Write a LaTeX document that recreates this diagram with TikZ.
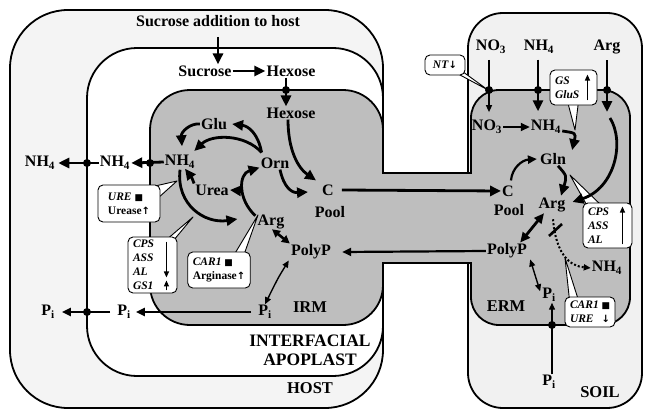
\documentclass[tikz,border=0pt]{standalone}
\usepackage{fontspec}
\setmainfont{Liberation Serif}
\newfontfamily\symf{DejaVu Sans}
\usetikzlibrary{arrows.meta}
\pgfdeclarelayer{regions}
\pgfdeclarelayer{ptr}
\pgfsetlayers{regions,ptr,main}
\definecolor{hostfill}{gray}{0.955}
\definecolor{soilfill}{gray}{0.945}
\definecolor{cellfill}{gray}{0.745}
\begin{document}
\begin{tikzpicture}[x=1pt,y=-1pt,
  region/.style={line width=1.8pt},
  lbl/.style={font=\bfseries\fontsize{16}{19}\selectfont, inner sep=1pt},
  zone/.style={font=\bfseries\fontsize{16.5}{19}\selectfont, inner sep=1pt, align=center},
  thk/.style={line width=2.8pt, -{Triangle[length=11pt,width=10pt]}},
  thkd/.style={line width=2.8pt, {Triangle[length=10pt,width=9pt]}-{Triangle[length=10pt,width=9pt]}},
  thks/.style={line width=2.6pt, {Triangle[length=8pt,width=8pt]}-{Triangle[length=8pt,width=8pt]}},
  med/.style={line width=2.2pt, -{Triangle[length=9pt,width=8pt]}},
  thn/.style={line width=1.4pt, -{Triangle[length=7pt,width=6pt]}},
  thnd/.style={line width=1.4pt, {Triangle[length=7pt,width=6pt]}-{Triangle[length=7pt,width=6pt]}},
  dotd/.style={line width=2pt, dotted, -{Triangle[length=7pt,width=6pt]}},
  cbox/.style={draw, fill=white, line width=0.9pt, rounded corners=5pt, font=\bfseries\fontsize{11.5}{14}\selectfont, align=left, inner xsep=5pt, inner ysep=2pt},
  ptrs/.style={draw, fill=white, line width=0.9pt, line join=round},
  barr/.style={line width=1.2pt, -{Triangle[length=6pt,width=5pt]}}
]
\useasboundingbox (0,0) rectangle (650,412);

% ---------- regions ----------
\begin{pgfonlayer}{regions}
\draw[region, fill=hostfill, rounded corners=58pt] (10,10) rectangle (383,408);
\draw[region, fill=white, rounded corners=50pt] (87,48) rectangle (383,376);
\draw[region, fill=cellfill, rounded corners=40pt] (150,90) rectangle (383,325);
\draw[region, fill=soilfill, rounded corners=35pt] (468,13) rectangle (642,408);
\draw[region, fill=cellfill, rounded corners=28pt] (471,90) rectangle (630,325);
\fill[cellfill] (380,174) rectangle (474,262);
\draw[region] (383,173) -- (471,173);
\draw[region] (383,263) -- (471,263);
\end{pgfonlayer}

% ---------- labels ----------
\node[lbl] (sucadd) at (218,21) {Sucrose addition to host};
\node[lbl] (suc) at (205,71) {Sucrose};
\node[lbl] (hexA) at (291,71) {Hexose};
\node[lbl] (hexB) at (291,113) {Hexose};
\node[lbl] (glu) at (214,124) {Glu};
\node[lbl] (nhI) at (180,162) {NH\textsubscript{4}};
\node[lbl] (orn) at (275,163) {Orn};
\node[lbl] (urea) at (212,190) {Urea};
\node[lbl] (cI) at (328,190) {C};
\node[lbl] (poolI) at (330,212) {Pool};
\node[lbl] (argI) at (271,222) {Arg};
\node[lbl] (ppI) at (311,252) {PolyP};
\node[lbl] (piI) at (265,312) {P\textsubscript{i}};
\node[zone] (irm) at (310,307) {IRM};
\node[zone, font=\bfseries\fontsize{17.5}{19}\selectfont] (iap) at (310,350) {INTERFACIAL\\APOPLAST};
\node[zone] (host) at (310,388) {HOST};
\node[lbl] (nhA) at (115,163) {NH\textsubscript{4}};
\node[lbl] (nhH) at (40,163) {NH\textsubscript{4}};
\node[lbl] (piA) at (124,312) {P\textsubscript{i}};
\node[lbl] (piH) at (48,312) {P\textsubscript{i}};

\node[lbl] (no3S) at (491,47) {NO\textsubscript{3}};
\node[lbl] (nhS) at (539,47) {NH\textsubscript{4}};
\node[lbl] (argS) at (607,47) {Arg};
\node[lbl] (no3E) at (487,127) {NO\textsubscript{3}};
\node[lbl] (nhE) at (546,127) {NH\textsubscript{4}};
\node[lbl] (gln) at (553,159) {Gln};
\node[lbl] (cE) at (508,191) {C};
\node[lbl] (poolE) at (509,210) {Pool};
\node[lbl] (argE) at (552,205) {Arg};
\node[lbl] (ppE) at (507,251) {PolyP};
\node[lbl] (nhE2) at (607,268) {NH\textsubscript{4}};
\node[lbl] (piE) at (549,295) {P\textsubscript{i}};
\node[zone] (erm) at (506,306) {ERM};
\node[lbl] (piS) at (549,382) {P\textsubscript{i}};
\node[zone] (soil) at (600,392) {SOIL};

% ---------- membrane crossing points ----------
\coordinate (dHex) at (286,90);
\coordinate (dNHi) at (150,163);
\coordinate (dNHa) at (87,163);
\coordinate (dPia) at (87,312);
\coordinate (dNO3) at (489,90);
\coordinate (dNHs) at (538,90);
\coordinate (dArgs) at (607,90);
\coordinate (dPis) at (552,325);
\coordinate (argBr) at (243,191);
\coordinate (argIn) at (607,112);
\coordinate (argCv) at (610,118);

% ---------- host / IRM arrows ----------
\draw[thk] ([yshift=-9pt]sucadd.south) -- (sucadd.south |- suc.north);
\draw[thk] (suc.east) -- (hexA.west);
\draw[thk] (hexA.south -| dHex) -- (hexB.north -| dHex);
\draw[thk] ([xshift=-3pt]hexB.south) .. controls (288,150) and (298,168) .. ([xshift=-5pt,yshift=3pt]cI.north west);
\draw[thk] (glu.west) .. controls (190,123) and (181,132) .. ([xshift=2pt,yshift=8pt]nhI.north);
\draw[thk] ([xshift=2pt,yshift=4pt]orn.north west) .. controls (258,133) and (248,126) .. ([xshift=4pt]glu.east);
\draw[thk] ([xshift=2pt,yshift=4pt]orn.north west) .. controls (245,134) and (212,134) .. ([xshift=-2pt,yshift=11pt]nhI.east);
\draw[thk] (urea.north west) .. controls (192,178) .. ([xshift=5pt,yshift=1pt]nhI.south);
\draw[thk] (nhI.south) .. controls (176,205) and (205,224) .. ([xshift=-19pt,yshift=3pt]argI.west);
\draw[thk] ([xshift=-1pt,yshift=-2pt]argI.north west) .. controls (238,200) and (238,174) .. ([yshift=2pt]orn.south west);
\draw[thk] (argBr) -- (urea.east);
\draw[thk] ([xshift=5pt]orn.south) .. controls (284,188) and (292,193) .. ([xshift=-13pt,yshift=-2pt]cI.west);
\draw[thks] ([xshift=1pt,yshift=1pt]argI.south) -- ([xshift=0pt,yshift=0pt]ppI.north west);
\draw[thnd] ([xshift=-1pt]ppI.south west) .. controls (278,278) .. (piI.north);
\draw[med] ([xshift=-6pt]piI.west) -- ([xshift=4pt]piA.east);
\draw[med] ([xshift=-6pt]piA.west) -- ([xshift=6pt]piH.east);
\draw[thk] (nhI.west) -- (nhA.east);
\draw[thk] (nhA.west) -- ([xshift=2pt]nhH.east);
\foreach \d in {dHex,dNHi,dNHa,dPia} \fill (\d) circle[radius=4pt];

% ---------- transfer between IRM and ERM ----------
\draw[thk] ([xshift=7pt]cI.east) -- (cE.west);
\draw[med] (ppE.west) -- ([xshift=10pt]ppI.east);

% ---------- ERM / soil arrows ----------
\draw[thn] ([yshift=-5pt]no3S.south -| dNO3) -- ([yshift=7pt]no3E.north -| dNO3);
\draw[thk] ([yshift=-5pt]nhS.south -| dNHs) -- ([yshift=8pt]nhE.north -| dNHs);
\draw[thk] ([yshift=-5pt]argS.south) -- (argIn);
\draw[thk] (argCv) .. controls (625,142) and (615,188) .. ([xshift=6pt,yshift=3pt]argE.east);
\draw[med] (no3E.east) -- (nhE.west);
\draw[thk] ([yshift=-4pt]nhE.east) .. controls (576,133) .. ([xshift=5pt,yshift=2pt]gln.north east);
\draw[med] ([xshift=-4pt,yshift=4pt]cE.north east) .. controls (512,168) and (522,160) .. ([xshift=-2pt]gln.west);
\draw[thk] ([xshift=5pt]gln.south) .. controls (567,176) .. ([xshift=9pt,yshift=1pt]argE.north);
\draw[thkd] ([xshift=-8pt]argE.south) -- ([xshift=-8pt]ppE.north east);
\draw[dotd] ([xshift=1pt,yshift=-6pt]argE.south) .. controls (556,255) and (570,266) .. (nhE2.west);
\draw[line width=2.6pt] (549,236) -- (562,224);
\draw[thnd] ([xshift=2pt]ppE.south east) -- ([xshift=-1pt,yshift=-4pt]piE.north west);
\draw[thn] (piS.north -| dPis) -- (piE.south -| dPis);
\foreach \d in {dNO3,dNHs,dArgs,dPis} \fill (\d) circle[radius=4pt];

% ---------- callouts ----------
\node[cbox, minimum width=62pt, minimum height=37pt] (cbUre) at (129,203.5)
  {\textit{URE} {\symf\fontsize{9}{9}\selectfont ■}\\Urease{\symf\fontsize{10}{10}\selectfont ↑}};
\node[cbox, text width=39pt, minimum height=56pt] (cbCpsI) at (152.5,265)
  {\textit{CPS}\\\textit{ASS}\\\textit{AL}\\\textit{GS1}};
\draw[barr] ([xshift=-11pt,yshift=-5pt]cbCpsI.north east) -- ([xshift=-11pt,yshift=16pt]cbCpsI.south east);
\draw[barr] ([xshift=-11pt,yshift=3pt]cbCpsI.south east) -- ([xshift=-11pt,yshift=13pt]cbCpsI.south east);
\node[cbox, minimum width=62pt, minimum height=36pt] (cbCarI) at (219,270)
  {\textit{CAR1} {\symf\fontsize{9}{9}\selectfont ■}\\Arginase{\symf\fontsize{10}{10}\selectfont ↑}};
\node[cbox, minimum width=40pt, minimum height=20pt, inner ysep=1pt, align=center] (cbNt) at (445,65)
  {\textit{NT}{\symf\fontsize{10}{10}\selectfont ↓}};
\node[cbox, text width=37pt, minimum height=35pt] (cbGs) at (573.5,87.5)
  {\textit{GS}\\\textit{GluS}};
\draw[barr] ([xshift=-10pt,yshift=5pt]cbGs.south east) -- ([xshift=-10pt,yshift=-5pt]cbGs.north east);
\node[cbox, text width=39pt, minimum height=45pt] (cbCpsE) at (607.5,225.5)
  {\textit{CPS}\\\textit{ASS}\\\textit{AL}};
\draw[barr] ([xshift=-10pt,yshift=4pt]cbCpsE.south east) -- ([xshift=-10pt,yshift=-4pt]cbCpsE.north east);
\node[cbox, text width=40pt, minimum height=30pt] (cbCarE) at (590,312)
  {\textit{CAR1}\hfill{\symf\fontsize{9}{9}\selectfont ■}\\\textit{URE}\hfill{\symf\fontsize{10}{10}\selectfont ↓}};

\coordinate (pUre) at (177,181);
\coordinate (pCpsI) at (193,217);
\coordinate (pCarI) at (258,215);
\coordinate (pNt) at (488,90);
\coordinate (pGs) at (575,130);
\coordinate (pCpsE) at (570,175);
\coordinate (pCarE) at (565,258);

\begin{pgfonlayer}{ptr}
\draw[ptrs] ([xshift=-12pt,yshift=-3pt]cbUre.north east) -- (pUre) -- ([xshift=-3pt,yshift=-14pt]cbUre.north east) -- cycle;
\draw[ptrs] ([xshift=-12pt,yshift=-4pt]cbCpsI.north east) -- (pCpsI) -- ([xshift=-4pt,yshift=-4pt]cbCpsI.north east) -- cycle;
\draw[ptrs] ([xshift=-17pt,yshift=-4pt]cbCarI.north east) -- (pCarI) -- ([xshift=-7pt,yshift=-4pt]cbCarI.north east) -- cycle;
\draw[ptrs] ([xshift=-12pt,yshift=4pt]cbNt.south east) -- (pNt) -- ([xshift=-3pt,yshift=4pt]cbNt.south east) -- cycle;
\draw[ptrs] ([xshift=-6pt,yshift=4pt]cbGs.south) -- (pGs) -- ([xshift=5pt,yshift=4pt]cbGs.south) -- cycle;
\draw[ptrs] ([xshift=5pt,yshift=-4pt]cbCpsE.north west) -- (pCpsE) -- ([xshift=20pt,yshift=-4pt]cbCpsE.north west) -- cycle;
\draw[ptrs] ([xshift=5pt,yshift=-4pt]cbCarE.north west) -- (pCarE) -- ([xshift=14pt,yshift=-4pt]cbCarE.north west) -- cycle;
\end{pgfonlayer}
\end{tikzpicture}
\end{document}
